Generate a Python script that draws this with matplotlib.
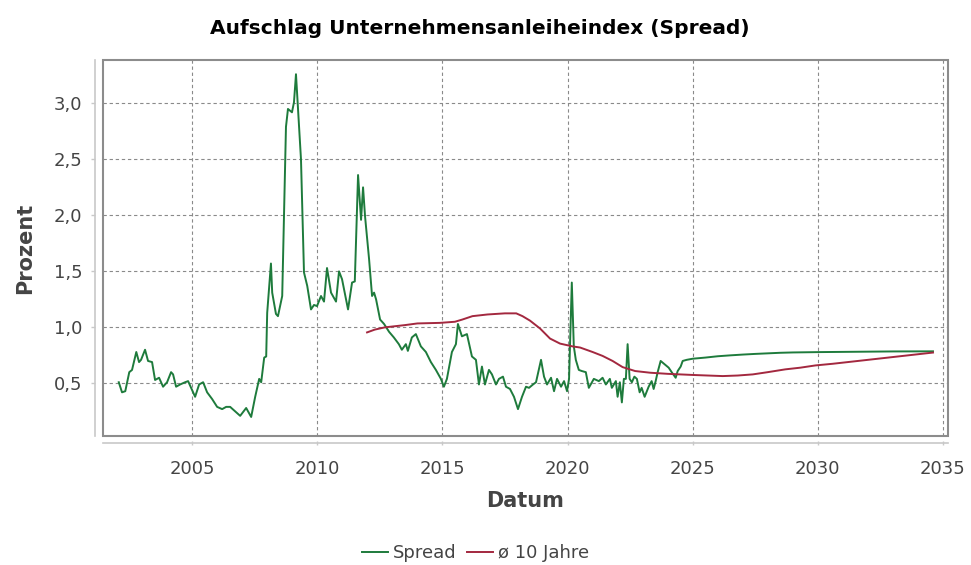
import matplotlib
matplotlib.use("Agg")
import matplotlib.pyplot as plt
from matplotlib.patches import Rectangle
from matplotlib.ticker import FuncFormatter

spread_dates = [
    2002.07, 2002.2, 2002.33, 2002.49, 2002.6, 2002.77, 2002.88, 2002.96, 2003.12, 2003.24,
    2003.4, 2003.52, 2003.68, 2003.84, 2004.0, 2004.16, 2004.24, 2004.36, 2004.52, 2004.72,
    2004.84, 2004.96, 2005.12, 2005.28, 2005.44, 2005.6, 2005.8, 2006.0, 2006.2, 2006.36,
    2006.52, 2006.72, 2006.92, 2007.16, 2007.36, 2007.52, 2007.68, 2007.76, 2007.88, 2007.96,
    2008.0, 2008.15, 2008.2, 2008.35, 2008.43, 2008.6, 2008.75, 2008.83, 2008.99, 2009.07,
    2009.15, 2009.35, 2009.47, 2009.6, 2009.75, 2009.87, 2009.99, 2010.15, 2010.27, 2010.39,
    2010.55, 2010.75, 2010.87, 2010.99, 2011.23, 2011.39, 2011.5, 2011.63, 2011.75, 2011.83,
    2011.91, 2012.07, 2012.19, 2012.27, 2012.35, 2012.51, 2012.67, 2012.87, 2013.06, 2013.26,
    2013.38, 2013.54, 2013.62, 2013.78, 2013.94, 2014.14, 2014.34, 2014.54, 2014.74, 2014.94,
    2015.06, 2015.18, 2015.38, 2015.54, 2015.62, 2015.78, 2015.98, 2016.18, 2016.34, 2016.46,
    2016.58, 2016.7, 2016.86, 2016.98, 2017.14, 2017.26, 2017.42, 2017.54, 2017.7, 2017.86,
    2018.02, 2018.18, 2018.34, 2018.46, 2018.62, 2018.74, 2018.94, 2019.06, 2019.18, 2019.34,
    2019.46, 2019.58, 2019.74, 2019.86, 2019.98, 2020.06, 2020.17, 2020.25, 2020.33, 2020.45,
    2020.57, 2020.73, 2020.85, 2021.05, 2021.25, 2021.4, 2021.53, 2021.69, 2021.77, 2021.93,
    2022.0, 2022.09, 2022.17, 2022.25, 2022.33, 2022.4, 2022.48, 2022.57, 2022.67, 2022.77,
    2022.88, 2022.96, 2023.08, 2023.24, 2023.36, 2023.44, 2023.52, 2023.6, 2023.72, 2023.88,
    2024.04, 2024.16, 2024.32, 2024.4, 2024.52, 2024.6, 2024.76, 2025.0, 2025.5, 2026.0,
    2026.5, 2027.0, 2027.5, 2028.0, 2028.5, 2029.0, 2030.0, 2031.0, 2032.0, 2033.0,
    2034.0, 2034.6,
]
spread_values = [
    0.51, 0.42, 0.43, 0.60, 0.62, 0.78, 0.69, 0.71, 0.80, 0.70,
    0.69, 0.53, 0.55, 0.47, 0.51, 0.60, 0.58, 0.47, 0.49, 0.51,
    0.52, 0.46, 0.38, 0.49, 0.51, 0.42, 0.36, 0.29, 0.27, 0.29,
    0.29, 0.25, 0.21, 0.28, 0.20, 0.38, 0.54, 0.51, 0.73, 0.74,
    1.13, 1.57, 1.31, 1.12, 1.10, 1.28, 2.79, 2.95, 2.92, 3.01,
    3.26, 2.50, 1.49, 1.37, 1.16, 1.20, 1.19, 1.28, 1.23, 1.53,
    1.31, 1.23, 1.50, 1.43, 1.16, 1.40, 1.41, 2.36, 1.96, 2.25,
    1.99, 1.61, 1.28, 1.31, 1.25, 1.07, 1.03, 0.96, 0.91, 0.85,
    0.80, 0.85, 0.79, 0.91, 0.94, 0.83, 0.78, 0.69, 0.62, 0.54,
    0.47, 0.54, 0.78, 0.85, 1.03, 0.92, 0.94, 0.74, 0.71, 0.49,
    0.65, 0.49, 0.62, 0.58, 0.49, 0.54, 0.56, 0.47, 0.45, 0.38,
    0.27, 0.38, 0.47, 0.46, 0.49, 0.51, 0.71, 0.56, 0.49, 0.55,
    0.43, 0.54, 0.47, 0.52, 0.43, 0.54, 1.40, 0.83, 0.71, 0.62,
    0.61, 0.60, 0.46, 0.54, 0.52, 0.55, 0.49, 0.54, 0.46, 0.52,
    0.38, 0.51, 0.33, 0.54, 0.54, 0.85, 0.54, 0.51, 0.56, 0.54,
    0.42, 0.46, 0.38, 0.47, 0.52, 0.45, 0.52, 0.60, 0.70, 0.67,
    0.64, 0.60, 0.55, 0.61, 0.65, 0.70, 0.71, 0.72, 0.73, 0.742,
    0.75, 0.757, 0.763, 0.768, 0.773, 0.776, 0.779, 0.781, 0.783, 0.785,
    0.786, 0.786,
]

avg_dates = [
    2011.99, 2012.3, 2012.7, 2013.5, 2014.0, 2014.9, 2015.5, 2015.8, 2016.2, 2016.8,
    2017.5, 2017.95, 2018.2, 2018.5, 2018.9, 2019.3, 2019.7, 2020.2, 2020.5, 2021.0,
    2021.4, 2021.8, 2022.2, 2022.7, 2023.3, 2024.0, 2025.0, 2025.6, 2026.2, 2026.8,
    2027.4, 2028.0, 2028.7, 2029.3, 2029.9, 2030.6, 2031.4, 2032.0, 2032.6, 2033.2,
    2033.8, 2034.4, 2034.6,
]
avg_values = [
    0.955, 0.98, 1.0, 1.02, 1.035, 1.04, 1.05, 1.07, 1.10, 1.115,
    1.125, 1.125, 1.10, 1.06, 0.99, 0.90, 0.855, 0.83, 0.82, 0.78,
    0.745, 0.70, 0.645, 0.61, 0.595, 0.585, 0.575, 0.57, 0.565, 0.57,
    0.58, 0.60, 0.625, 0.64, 0.66, 0.675, 0.695, 0.71, 0.725, 0.74,
    0.755, 0.77, 0.775,
]

x_ticks = [2005, 2010, 2015, 2020, 2025, 2030, 2035]
y_ticks = [0.5, 1.0, 1.5, 2.0, 2.5, 3.0]

text_gray = "#444444"

fig = plt.figure(figsize=(9.71, 5.65), dpi=100)
ax = fig.add_axes([103 / 971, 1 - 436 / 565, 845 / 971, 376 / 565])

ax.plot(spread_dates, spread_values, color="#1e7b3c", lw=1.4, label="Spread")
ax.plot(avg_dates, avg_values, color="#a3283f", lw=1.4, label="ø 10 Jahre")

ax.set_xlim(2001.44, 2035.2)
ax.set_ylim(0.03, 3.387)
ax.set_xticks(x_ticks)
ax.set_yticks(y_ticks)
ax.yaxis.set_major_formatter(FuncFormatter(lambda v, p: f"{v:.1f}".replace(".", ",")))

ax.grid(True, color="#8a8a8a", lw=0.8, linestyle=(0, (3, 2.5)))
ax.set_axisbelow(True)

for side in ["top", "right"]:
    ax.spines[side].set_visible(False)
ax.spines["left"].set_position(("outward", 6))
ax.spines["bottom"].set_position(("outward", 5))
ax.spines["left"].set_color("#c8c8c8")
ax.spines["bottom"].set_color("#c8c8c8")
ax.spines["left"].set_linewidth(1.2)
ax.spines["bottom"].set_linewidth(1.2)
ax.add_patch(Rectangle((0, 0), 1, 1, transform=ax.transAxes, fill=False,
                       edgecolor="#8c8c8c", lw=1.5, clip_on=False, zorder=5))

ax.tick_params(axis="both", colors="#c8c8c8", length=3, width=1, labelcolor=text_gray,
               labelsize=13)
ax.tick_params(axis="y", pad=6)
ax.tick_params(axis="x", direction="inout", pad=11)

ax.set_ylabel("Prozent", fontsize=15, fontweight="bold", color=text_gray, labelpad=13)
ax.set_xlabel("Datum", fontsize=15, fontweight="bold", color=text_gray, labelpad=9)
fig.text(0.494, 1 - 28 / 565, "Aufschlag Unternehmensanleiheindex (Spread)", ha="center",
         va="center", fontsize=14.5, fontweight="bold", color="black")

leg = fig.legend(loc="center", bbox_to_anchor=(0.49, 1 - 553 / 565), ncol=2, frameon=False,
                 handlelength=1.4, handletextpad=0.3, columnspacing=0.6, fontsize=13)
for t in leg.get_texts():
    t.set_color(text_gray)

fig.savefig("out.png", dpi=100)
